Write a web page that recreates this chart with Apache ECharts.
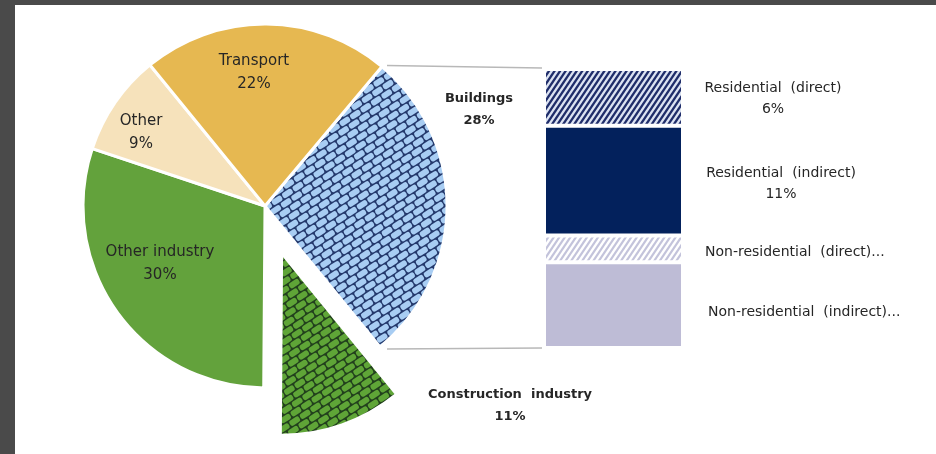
<!DOCTYPE html>
<html><head><meta charset="utf-8">
<script src="https://cdn.jsdelivr.net/npm/echarts@6/dist/echarts.min.js"></script>
<style>
html,body{margin:0;padding:0;background:#4a4a4a;width:936px;height:454px;overflow:hidden}
#c{position:absolute;left:15px;top:5px;width:921px;height:449px;background:#fff}
</style></head><body><div id="c"></div>
<script>
// ---- data ----
const pieCategories = ['Buildings', 'Construction  industry', 'Other industry', 'Other', 'Transport'];
const pieValues = [28, 11, 30, 9, 22];
const barCategories = ['Residential  (direct)', 'Residential  (indirect)', 'Non-residential  (direct)...', 'Non-residential  (indirect)...'];
const barValues = [5.7, 11, 2.7, 8.6];
const barShowValue = [true, true, false, false];

// ---- layout / style ----
const W = 921, H = 449;
const PIE_CX = 250, PIE_CY = 201, PIE_R = 182;
const PIE_START = 50;
const EXPLODE_INDEX = 1, EXPLODE_DIST = 50;
const GRID = {left: 529, top: 64, width: 139, height: 279};
const pieLabelOffsets = [[214, -96], [245, 200], [-105, 58], [-124, -73], [-11, -133]];
const pieLabelBold = [true, true, false, false, false];
const FONT = '"DejaVu Sans", sans-serif';
const TXT = '#262626';

function brickPattern(base, mortar, angle, bw, bh, gap) {
  const cv = document.createElement('canvas'); cv.width = W; cv.height = H;
  const ctx = cv.getContext('2d');
  ctx.fillStyle = mortar; ctx.fillRect(0, 0, W, H);
  ctx.save(); ctx.translate(W / 2, H / 2); ctx.rotate(angle);
  const R = 700;
  ctx.fillStyle = base;
  for (let r = -Math.ceil(R / bh); r <= Math.ceil(R / bh); r++) {
    const y = r * bh; const off = (Math.abs(r) % 2) * bw / 2;
    for (let c = -Math.ceil(R / bw) - 1; c <= Math.ceil(R / bw); c++) {
      const x = c * bw + off;
      const x0 = x + gap / 2, y0 = y + gap / 2, w = bw - gap, h = bh - gap, rr = 2.2;
      ctx.beginPath();
      ctx.moveTo(x0 + rr, y0); ctx.lineTo(x0 + w - rr, y0); ctx.quadraticCurveTo(x0 + w, y0, x0 + w, y0 + rr);
      ctx.lineTo(x0 + w, y0 + h - rr); ctx.quadraticCurveTo(x0 + w, y0 + h, x0 + w - rr, y0 + h);
      ctx.lineTo(x0 + rr, y0 + h); ctx.quadraticCurveTo(x0, y0 + h, x0, y0 + h - rr);
      ctx.lineTo(x0, y0 + rr); ctx.quadraticCurveTo(x0, y0, x0 + rr, y0);
      ctx.fill();
    }
  }
  ctx.restore();
  return {image: cv, repeat: 'no-repeat'};
}
function stripePattern(bg, fg, angle, period, lw) {
  const cv = document.createElement('canvas'); cv.width = W; cv.height = H;
  const ctx = cv.getContext('2d');
  ctx.fillStyle = bg; ctx.fillRect(0, 0, W, H);
  ctx.save(); ctx.translate(W / 2, H / 2); ctx.rotate(angle);
  ctx.fillStyle = fg;
  for (let y = -700; y < 700; y += period) ctx.fillRect(-700, y, 1400, lw);
  ctx.restore();
  return {image: cv, repeat: 'no-repeat'};
}

const pieColors = [
  brickPattern('#a8cdf3', '#24396c', -0.58, 12.5, 7.2, 1.3),
  brickPattern('#5fa537', '#22401d', -0.58, 12.5, 7.2, 1.3),
  '#63a23c', '#f6e2bb', '#e6b851'
];
const barColors = [
  stripePattern('#dce3f2', '#1f2d6a', -0.98, 4.6, 2.3),
  '#03215c',
  stripePattern('#ffffff', '#c3c3db', -0.98, 4.6, 2.2),
  '#bebcd6'
];
const barLabelAlign = ['center', 'center', 'left', 'left'];
const barLabelDistance = [90, 98, 22, 25];
const barLabelShift = [[0, 1], [0, 3], [0, 4], [0, 7]];

const total = pieValues.reduce((a, b) => a + b, 0);
const barTotal = barValues.reduce((a, b) => a + b, 0);
// exploded slice: centre shifted along its bisector
const before = pieValues.slice(0, EXPLODE_INDEX).reduce((a, b) => a + b, 0);
const midDeg = PIE_START - (before + pieValues[EXPLODE_INDEX] / 2) / total * 360;
const exCX = PIE_CX + EXPLODE_DIST * Math.cos(midDeg * Math.PI / 180);
const exCY = PIE_CY - EXPLODE_DIST * Math.sin(midDeg * Math.PI / 180);

const labelBase = {show: true, position: 'inside', formatter: '{b}\n{c}%', fontFamily: FONT,
  fontSize: 15, lineHeight: 23, color: TXT};
const layoutFn = p => ({
  x: PIE_CX + pieLabelOffsets[p.dataIndex][0],
  y: PIE_CY + pieLabelOffsets[p.dataIndex][1],
  align: 'center', verticalAlign: 'middle'
});
function pieData(visibleFn) {
  return pieCategories.map((n, i) => {
    const vis = visibleFn(i);
    return {
      name: n, value: pieValues[i],
      itemStyle: vis ? {color: pieColors[i], borderColor: '#fff', borderWidth: 3}
                     : {color: 'rgba(0,0,0,0)', borderWidth: 0},
      label: vis ? (pieLabelBold[i] ? {fontWeight: 'bold', fontSize: 13, lineHeight: 22} : {}) : {show: false}
    };
  });
}
const pieCommon = {
  type: 'pie', radius: PIE_R, startAngle: PIE_START, clockwise: true,
  silent: true, avoidLabelOverlap: false, emphasis: {disabled: true, scale: false},
  label: labelBase, labelLine: {show: false}, labelLayout: layoutFn
};

const barSeries = barCategories.map((n, i) => ({
  type: 'bar', name: n, stack: 'b', data: [barValues[i]], barWidth: '100%',
  silent: true,
  itemStyle: {color: barColors[i], borderColor: '#fff', borderWidth: 2},
  label: {
    show: true, position: 'right', distance: barLabelDistance[i], align: barLabelAlign[i],
    verticalAlign: 'middle', offset: barLabelShift[i],
    formatter: () => barShowValue[i] ? n + '\n' + Math.round(barValues[i]) + '%' : n,
    fontFamily: FONT, fontSize: 14, lineHeight: 21, color: TXT
  }
}));

const chart = echarts.init(document.getElementById('c'), null, {renderer: 'canvas'});
chart.setOption({
  animation: false,
  backgroundColor: '#fff',
  grid: {left: GRID.left, top: GRID.top, width: GRID.width, height: GRID.height},
  xAxis: {type: 'category', data: ['Buildings'], show: false},
  yAxis: {type: 'value', min: 0, max: barTotal, inverse: true, show: false},
  series: [
    Object.assign({}, pieCommon, {center: [PIE_CX, PIE_CY], data: pieData(i => i !== EXPLODE_INDEX)}),
    Object.assign({}, pieCommon, {center: [exCX, exCY], data: pieData(i => i === EXPLODE_INDEX)})
  ].concat(barSeries),
  graphic: (() => {
    const a0 = PIE_START * Math.PI / 180;
    const a1 = a0 - pieValues[0] / total * 2 * Math.PI;
    const p0 = [PIE_CX + PIE_R * Math.cos(a0), PIE_CY - PIE_R * Math.sin(a0)];
    const p1 = [PIE_CX + PIE_R * Math.cos(a1), PIE_CY - PIE_R * Math.sin(a1)];
    const st = {stroke: '#b8b8b8', lineWidth: 1.5};
    return [
      {type: 'line', silent: true, shape: {x1: p0[0] + 5, y1: p0[1] - 1, x2: GRID.left - 2, y2: GRID.top - 1}, style: st},
      {type: 'line', silent: true, shape: {x1: p1[0] + 7, y1: p1[1] + 2, x2: GRID.left - 2, y2: GRID.top + GRID.height}, style: st}
    ];
  })()
});
</script></body></html>
